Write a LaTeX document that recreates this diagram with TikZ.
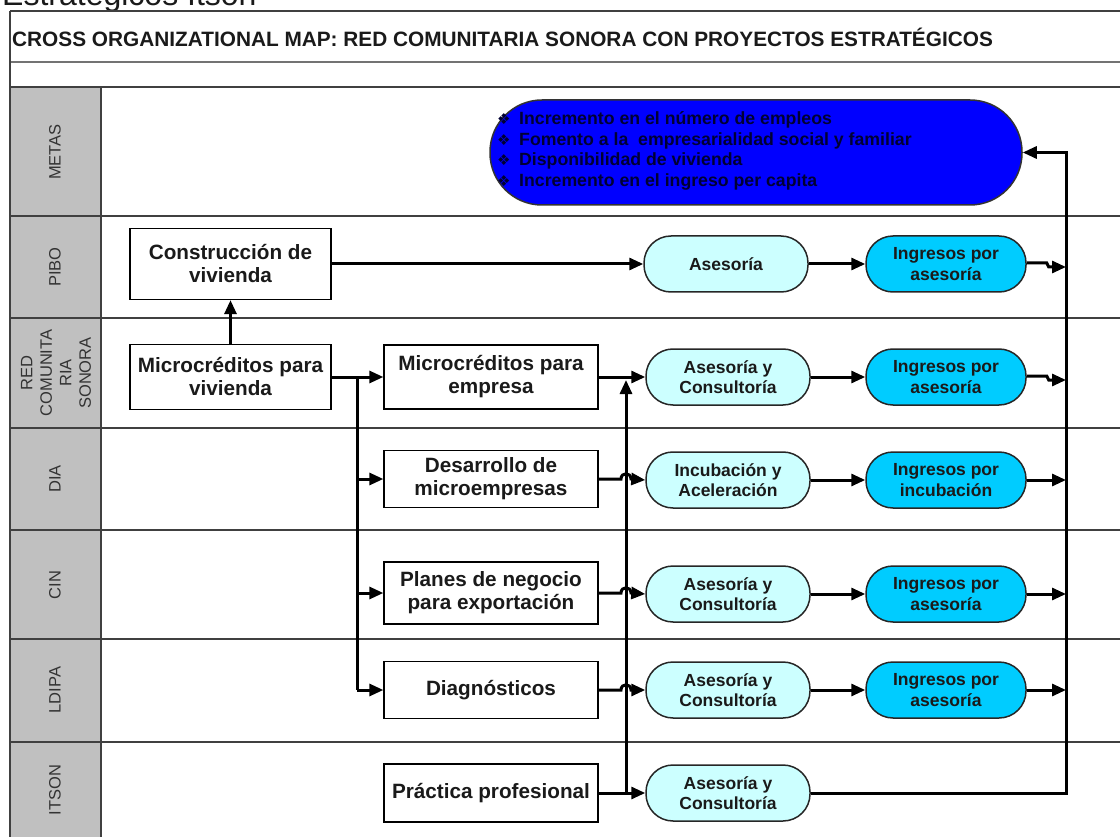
\documentclass[tikz,border=0pt]{standalone}
\usepackage{fontspec}
\setmainfont{Liberation Sans}
\newfontfamily\dejavu{DejaVu Sans}
\usetikzlibrary{arrows.meta}
\definecolor{lanegray}{HTML}{C0C0C0}
\definecolor{softcyan}{HTML}{CCFFFF}
\definecolor{skyc}{HTML}{00CCFF}
\definecolor{metasblue}{HTML}{0000FF}
\definecolor{txt}{HTML}{1A1A1A}
\definecolor{navytxt}{HTML}{000033}
\newcommand{\metabullet}{\makebox[22pt][l]{\dejavu\fontsize{15}{15}\selectfont ❖}}
\begin{document}
\begin{tikzpicture}[x=1pt,y=-1pt,
  proc/.style={draw=black, line width=1.3pt, fill=white, rectangle, inner sep=0pt, align=center,
    font=\fontsize{20.7}{23}\selectfont\bfseries, text=txt},
  rnd/.style={draw=black!85, line width=1.5pt, rounded corners=27pt, minimum width=164pt,
    minimum height=56pt, inner sep=0pt, align=center, font=\fontsize{17.5}{20.5}\selectfont\bfseries, text=txt},
  soft/.style={rnd, fill=softcyan},
  inc/.style={rnd, fill=skyc, minimum width=160pt},
  flow/.style={line width=3pt, -{Triangle[length=14pt,width=12pt]}},
  plain/.style={line width=3pt},
  lanelbl/.style={rotate=90, font=\fontsize{16.5}{19.5}\selectfont, text=black!80, align=center, inner sep=0pt},
  gridline/.style={draw=black!75, line width=1.5pt}
]
\useasboundingbox (0,0) rectangle (1120,837);
% header texts
\node[anchor=base west, font=\fontsize{32}{32}\selectfont, inner sep=0pt, text=txt] (hdr) at (2,6) {Estratégicos Itson};
% frame
\fill[lanegray] (10,87) rectangle (101,837);
\draw[gridline] (10,11) -- (1120,11);
\draw[draw=black!55, line width=2.2pt] (10,62) -- (1120,62);
\foreach \yy in {87,216,318,428,530,639,742} {\draw[gridline] (10,\yy) -- (1120,\yy);}
\draw[gridline] (10,11) -- (10,837);
\draw[gridline] (101,87) -- (101,837);
\node[anchor=west, font=\fontsize{20.8}{23}\selectfont\bfseries, inner sep=0pt, text=txt] (title) at (12,37)
  {CROSS ORGANIZATIONAL MAP: RED COMUNITARIA SONORA CON PROYECTOS ESTRATÉGICOS};
% lane labels
\node[lanelbl] (lmetas) at (55,152) {METAS};
\node[lanelbl] (lpibo) at (55,267) {PIBO};
\node[lanelbl] (lred) at (56,373) {RED\\COMUNITA\\RIA\\SONORA};
\node[lanelbl] (ldia) at (55,479) {DIA};
\node[lanelbl] (lcin) at (55,585) {CIN};
\node[lanelbl] (lldipa) at (55,690) {LDIPA};
\node[lanelbl] (litson) at (55,790) {ITSON};
% metas
\node[draw=black!80, line width=1.5pt, fill=metasblue, rounded corners=52pt, minimum width=532pt,
  minimum height=105pt, inner sep=0pt] (metas) at (756,152.5) {};
\node[anchor=west, align=left, inner sep=0pt, font=\fontsize{17.7}{20.7}\selectfont\bfseries, text=navytxt]
  (mtext) at (497,151) {\metabullet Incremento en el número de empleos\\
  \metabullet Fomento a la\ \ empresarialidad social y familiar\\
  \metabullet Disponibilidad de vivienda\\
  \metabullet Incremento en el ingreso per capita};
% process boxes
\node[proc, minimum width=201pt, minimum height=71pt] (cv) at (230.5,264) {Construcción de\\vivienda};
\node[proc, minimum width=201pt, minimum height=65pt] (mcv) at (230.5,377) {Microcréditos para\\vivienda};
\node[proc, minimum width=214pt, minimum height=64pt] (mce) at (491,377) {Microcréditos para\\empresa};
\node[proc, minimum width=214pt, minimum height=57pt] (dm) at (491,479) {Desarrollo de\\microempresas};
\node[proc, minimum width=214pt, minimum height=62pt] (pn) at (491,593) {Planes de negocio\\para exportación};
\node[proc, minimum width=214pt, minimum height=57pt] (dg) at (491,690) {Diagnósticos};
\node[proc, minimum width=214pt, minimum height=58pt] (pp) at (491,793) {Práctica profesional};
% rounded nodes
\node[soft] (as1) at (726,264) {Asesoría};
\node[inc] (ing1) at (946,264) {Ingresos por\\asesoría};
\node[soft] (as2) at (728,377) {Asesoría y\\Consultoría};
\node[inc] (ing2) at (946,377) {Ingresos por\\asesoría};
\node[soft] (as3) at (728,480) {Incubación y\\Aceleración};
\node[inc] (ing3) at (946,480) {Ingresos por\\incubación};
\node[soft] (as4) at (728,594) {Asesoría y\\Consultoría};
\node[inc] (ing4) at (946,594) {Ingresos por\\asesoría};
\node[soft] (as5) at (728,690) {Asesoría y\\Consultoría};
\node[inc] (ing5) at (946,690) {Ingresos por\\asesoría};
\node[soft] (as6) at (728,793) {Asesoría y\\Consultoría};
% bus coordinates
\coordinate (lb) at (357,0);
\coordinate (mb) at (626,0);
\coordinate (rb) at (1066,0);
% connectors
\draw[flow] (mcv.north) -- (cv.south);
\draw[flow] (cv.east) -- (as1.west);
\draw[flow] (mcv.east) -- (mce.west);
\draw[plain] (mcv.east -| lb) -- (dg.west -| lb);
\draw[flow] (dm.west -| lb) -- (dm.west);
\draw[flow] (pn.west -| lb) -- (pn.west);
\draw[flow] (dg.west -| lb) -- (dg.west);
\draw[flow] (mce.east) -- (as2.west);
\draw[flow] (pp.east) -- (as6.west);
\draw[flow] (pp.east -| mb) -- ([yshift=-3pt]mce.east -| mb);
\foreach \src/\dst in {dm/as3, pn/as4, dg/as5} {
  \draw[flow] (\src.east) -- ([xshift=-5pt]\src.east -| mb) .. controls +(0,-7) and +(0,-7) .. ([xshift=5pt]\src.east -| mb) -- (\dst.west);
}
\foreach \src/\dst in {as1/ing1, as2/ing2, as3/ing3, as4/ing4, as5/ing5} {
  \draw[flow] (\src.east) -- (\dst.west);
}
\draw[flow] ([yshift=1pt]ing1.east) -- ++(20,0) -- ++(2,4) coordinate (j1) -- (j1 -| rb);
\draw[flow] ([yshift=1pt]ing2.east) -- ++(20,0) -- ++(2,4) coordinate (j2) -- (j2 -| rb);
\draw[flow] (ing3.east) -- (ing3.east -| rb);
\draw[flow] (ing4.east) -- (ing4.east -| rb);
\draw[flow] (ing5.east) -- (ing5.east -| rb);
\draw[flow] (as6.east) -- (as6.east -| rb) -- (metas.east -| rb) -- (metas.east);
\end{tikzpicture}
\end{document}
